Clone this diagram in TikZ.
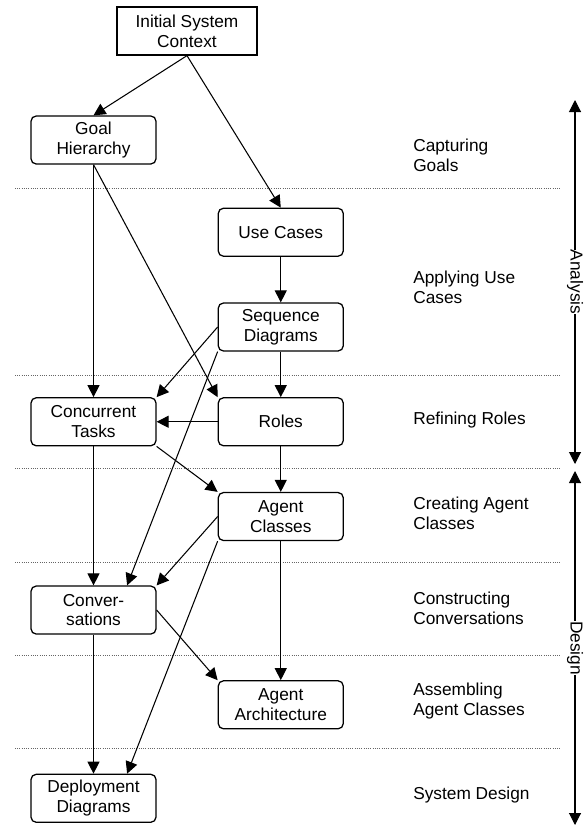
\documentclass[tikz,border=0pt]{standalone}
\usepackage{fontspec}
\setmainfont{Liberation Sans}
\usepackage{tikz}
\usetikzlibrary{arrows.meta,positioning}

\begin{document}
\begin{tikzpicture}[
  font=\fontsize{12.3}{14.2}\selectfont,
  stagebox/.style={draw=black,line width=0.9pt,rounded corners=0.13cm,minimum width=3.125cm,minimum height=1.2cm,inner sep=0pt,align=center},
  ctxbox/.style={draw=black,line width=0.9pt,minimum width=3.5cm,minimum height=1.2cm,inner sep=0pt,align=center},
  flow/.style={line width=0.75pt,-{Triangle[length=0.3cm,width=0.3cm]}},
  stageline/.style={black!60,line width=0.6pt,densely dotted},
  stagetext/.style={anchor=west,align=left,inner sep=0pt},
  phasearrow/.style={line width=0.75pt,{Triangle[length=0.3cm,width=0.3cm]}-{Triangle[length=0.3cm,width=0.3cm]}},
  phasetext/.style={rotate=-90,fill=white,inner sep=0pt},
]
\useasboundingbox (0,0) rectangle (14.6,-20.75);

%separators between the stages
\foreach \y in {-4.7,-9.3875,-11.7125,-14.0625,-16.3875,-18.7125}
  \draw[stageline] (0.375,\y) -- (14,\y);

%start from the system context
\node[ctxbox] (init) at (4.675,-0.775) {Initial System\\Context};

%left column
\node[stagebox] (goal) at (2.3375,-3.5) {Goal\\Hierarchy};
\node[stagebox,below=5.8125cm of goal] (concurrent) {Concurrent\\Tasks};
\node[stagebox,below=3.475cm of concurrent] (conv) {Conver-\\sations};
\node[stagebox,below=3.475cm of conv] (deploy) {Deployment\\Diagrams};

%right column
\node[stagebox,right=1.525cm of concurrent] (roles) {Roles};
\node[stagebox,above=1.1375cm of roles] (seq) {Sequence\\Diagrams};
\node[stagebox,above=1.1375cm of seq] (usecases) {Use Cases};
\node[stagebox,below=1.1375cm of roles] (agentcls) {Agent\\Classes};
\node[stagebox,below=3.475cm of agentcls] (agentarch) {Agent\\Architecture};

%stage names
\node[stagetext] (capgoals) at (10.325,-3.875) {Capturing\\Goals};
\node[stagetext] (applyuc) at (10.325,-7.175) {Applying Use\\Cases};
\node[stagetext] (refroles) at (10.325,-10.5125) {Refining Roles};
\node[stagetext] (creatac) at (10.325,-12.825) {Creating Agent\\Classes};
\node[stagetext] (constconv) at (10.325,-15.2) {Constructing\\Conversations};
\node[stagetext] (assemac) at (10.325,-17.525) {Assembling\\Agent Classes};
\node[stagetext] (sysdesign) at (10.325,-19.875) {System Design};

%connectors
\draw[flow] (init.south) -- (goal.north);
\draw[flow] (init.south) -- (usecases.north);
\draw[flow] (goal.south) -- (concurrent.north);
\draw[flow] (goal.south) -- (roles.north west);
\draw[flow] (usecases) -- (seq);
\draw[flow] (seq.west) -- (concurrent.north east);
\draw[flow] (seq) -- (roles);
\draw[flow] (seq.south west) -- ([xshift=0.84cm]conv.north);
\draw[flow] (roles) -- (concurrent);
\draw[flow] (roles) -- (agentcls);
\draw[flow] (concurrent.south east) -- (agentcls.north west);
\draw[flow] (concurrent) -- (conv);
\draw[flow] (agentcls.west) -- (conv.north east);
\draw[flow] (agentcls.south west) -- ([xshift=0.84cm]deploy.north);
\draw[flow] (agentcls) -- (agentarch);
\draw[flow] (conv.east) -- (agentarch.north west);
\draw[flow] (conv) -- (deploy);

%phases on the right
\coordinate (anatop) at (14.375,-2.5);
\coordinate (anabot) at (14.375,-11.6);
\coordinate (destop) at (14.375,-11.775);
\coordinate (desbot) at (14.375,-20.625);
\draw[phasearrow] (anatop) -- node[phasetext] (analysis) {Analysis} (anabot);
\draw[phasearrow] (destop) -- node[phasetext] (design) {Design} (desbot);

\end{tikzpicture}
\end{document}
